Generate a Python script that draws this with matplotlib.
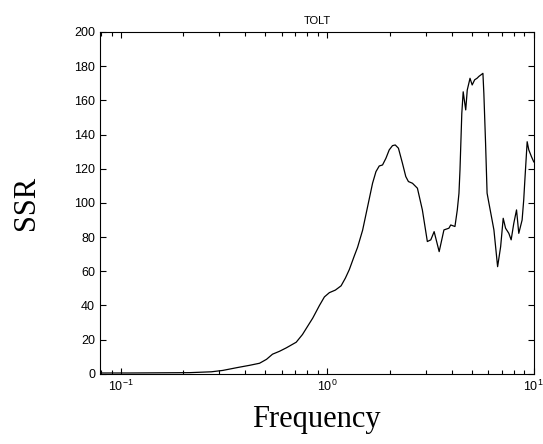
import matplotlib
matplotlib.use("Agg")
from matplotlib import pyplot as plt
from matplotlib.ticker import LogLocator, MultipleLocator

# values
freq = [0.079, 0.110, 0.154, 0.215, 0.274, 0.311, 0.367, 0.420, 0.469, 0.507,
        0.542, 0.586, 0.632, 0.706, 0.757, 0.818, 0.849, 0.915, 0.967, 1.022,
        1.093, 1.165, 1.222, 1.277, 1.350, 1.400, 1.481, 1.566, 1.655, 1.719,
        1.783, 1.850, 1.921, 1.993, 2.067, 2.132, 2.209, 2.310, 2.398, 2.469,
        2.583, 2.730, 2.885, 3.05, 3.17, 3.29, 3.48, 3.67, 3.88, 3.96,
        4.15, 4.26, 4.34, 4.39, 4.48, 4.55, 4.61, 4.68, 4.76, 4.91,
        5.03, 5.17, 5.32, 5.42, 5.56, 5.67, 5.73, 5.84, 5.94, 6.06,
        6.28, 6.41, 6.68, 6.91, 7.11, 7.30, 7.57, 7.77, 8.00, 8.25,
        8.46, 8.78, 8.94, 9.05, 9.29, 9.46, 9.75, 10.0]
ssr = [0.5, 0.5, 0.6, 0.7, 1.2, 2.0, 3.7, 5.0, 6.2, 8.5,
       11.5, 13.2, 15.2, 18.5, 23.0, 29.5, 32.6, 40.0, 45.0, 47.5,
       49.0, 51.5, 56.0, 61.0, 69.0, 74.0, 84.0, 97.8, 111.5, 118.3,
       121.6, 122.2, 126.1, 131.0, 133.5, 133.9, 132.0, 123.2, 115.4, 112.5,
       111.5, 108.6, 95.9, 77.4, 78.4, 83.2, 71.5, 84.2, 85.2, 87.1,
       86.2, 95.9, 105.6, 119.3, 152.4, 165.0, 160.0, 154.4, 166.0, 172.9,
       169.0, 172.0, 173.0, 174.0, 175.0, 175.8, 164.0, 135.0, 105.7, 100.0,
       90.0, 84.2, 62.7, 74.4, 91.0, 85.2, 82.2, 78.4, 88.0, 95.9,
       82.2, 90.0, 101.8, 113.0, 135.8, 131.0, 127.0, 124.0]

plt.rcParams['font.family'] = ['Liberation Sans', 'DejaVu Sans']
plt.rcParams['mathtext.default'] = 'regular'

fig = plt.figure(figsize=(5.43, 4.44), dpi=100)
ax = fig.add_axes([0.184, 0.158, 0.799, 0.770])

ax.plot(freq, ssr, color='black', linewidth=0.9)
ax.set_xscale('log')
ax.set_xlim(0.079, 10)
ax.set_ylim(0, 200)
ax.yaxis.set_major_locator(MultipleLocator(20))
ax.xaxis.set_major_locator(LogLocator(base=10))
ax.xaxis.set_minor_locator(LogLocator(base=10, subs=range(2, 10)))

ax.tick_params(which='both', direction='in', top=True, right=True,
               labelsize=9, width=0.8)
ax.tick_params(which='major', length=4)
ax.tick_params(which='minor', length=3)
for s in ax.spines.values():
    s.set_linewidth(0.8)

ax.set_title('TOLT', fontsize=8, pad=6)
ax.set_xlabel('Frequency', fontsize=22, family='Liberation Serif', labelpad=8)
ax.set_ylabel('SSR', fontsize=22, family='Liberation Serif', labelpad=24)

fig.savefig('out.png', dpi=100)
